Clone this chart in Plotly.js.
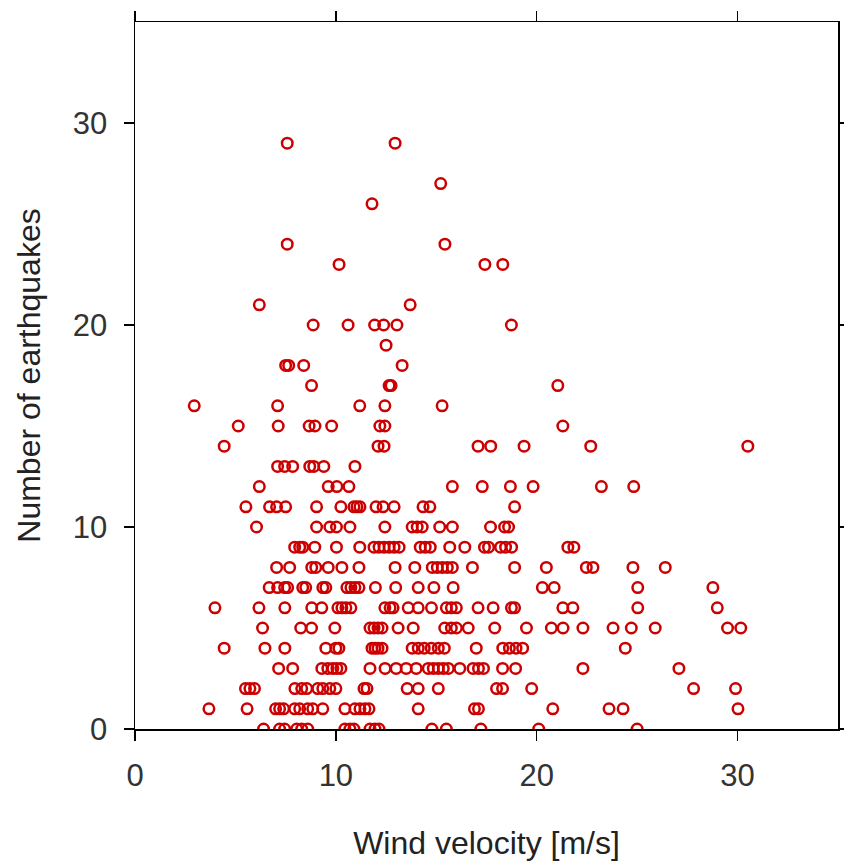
<!DOCTYPE html>
<html>
<head>
<meta charset="utf-8">
<script src="https://cdn.plot.ly/plotly-3.0.1.min.js"></script>
<style>html,body{margin:0;padding:0;background:#fff;}#chart{width:844px;height:861px;}</style>
</head>
<body>
<div id="chart"></div>
<script>
// Wind velocity [m/s] of each observation, grouped by its number of earthquakes
const quakeCounts = [0,1,2,3,4,5,6,7,8,9,10,11,12,13,14,15,16,17,18,19,20,21,23,24,26,27,29];
const windAt0 = [6.4, 7.2, 7.45, 8.05, 8.3, 8.6, 10.45, 10.7, 10.9, 11.7, 11.95, 12.15, 14.78, 15.5, 17.22, 20.1, 25.0];
const windAt1 = [3.68, 5.58, 7.0, 7.2, 7.4, 7.95, 8.2, 8.6, 8.85, 9.35, 10.45, 10.95, 11.2, 11.45, 11.65, 14.1, 16.9, 17.1, 20.8, 23.6, 24.3, 30.02];
const windAt2 = [5.5, 5.72, 5.95, 7.96, 8.3, 8.55, 9.1, 9.35, 9.7, 10.0, 11.4, 11.55, 13.55, 14.1, 15.1, 18.0, 18.3, 19.75, 27.81, 29.9];
const windAt3 = [7.15, 7.85, 9.3, 9.6, 9.85, 10.05, 10.25, 11.7, 12.45, 13.0, 13.5, 14.0, 14.6, 14.85, 15.1, 15.35, 15.6, 16.17, 16.83, 17.1, 17.35, 18.3, 18.95, 22.3, 27.08];
const windAt4 = [4.44, 6.47, 7.46, 9.5, 10.0, 10.15, 11.8, 11.95, 12.1, 12.3, 13.8, 14.1, 14.4, 14.75, 15.1, 15.4, 16.99, 18.31, 18.64, 18.97, 19.3, 24.41];
const windAt5 = [6.35, 8.25, 8.79, 9.95, 11.7, 11.9, 12.1, 12.3, 13.1, 13.85, 15.42, 15.75, 16.0, 16.59, 17.91, 19.49, 20.73, 21.31, 22.3, 23.8, 24.71, 25.9, 29.5, 30.16];
const windAt6 = [3.98, 6.17, 7.46, 8.8, 9.3, 10.1, 10.3, 10.5, 10.75, 12.44, 12.7, 12.85, 13.6, 14.1, 14.76, 15.5, 15.75, 16.0, 17.08, 17.83, 18.74, 18.9, 21.3, 21.8, 25.03, 28.99];
const windAt7 = [6.68, 7.1, 7.45, 7.6, 8.35, 8.5, 9.35, 9.5, 10.55, 10.75, 10.95, 11.15, 11.97, 12.98, 14.1, 14.88, 15.84, 20.28, 20.87, 25.03, 28.77];
const windAt8 = [7.05, 7.7, 8.8, 9.0, 9.62, 10.3, 11.15, 12.95, 13.93, 14.8, 15.05, 15.3, 15.55, 15.8, 16.8, 18.9, 20.48, 22.47, 22.8, 24.79, 26.4];
const windAt9 = [7.95, 8.2, 8.35, 8.95, 10.03, 11.19, 11.9, 12.15, 12.4, 12.65, 12.9, 13.15, 14.2, 14.45, 14.7, 15.67, 16.42, 17.4, 17.6, 18.2, 18.45, 18.75, 21.55, 21.85];
const windAt10 = [6.05, 9.04, 9.7, 10.03, 10.7, 12.44, 13.8, 14.05, 14.3, 15.17, 15.8, 17.7, 18.4, 18.6];
const windAt11 = [5.52, 6.7, 7.05, 7.5, 9.04, 10.25, 10.9, 11.05, 11.2, 12.0, 12.35, 12.9, 14.34, 14.68, 18.9];
const windAt12 = [6.19, 9.62, 10.05, 10.65, 15.8, 17.29, 18.69, 19.82, 23.22, 24.83];
const windAt13 = [7.1, 7.45, 7.85, 8.7, 8.9, 9.4, 10.95];
const windAt14 = [4.44, 12.1, 12.4, 17.08, 17.71, 19.37, 22.69, 30.51];
const windAt15 = [5.14, 7.13, 8.67, 8.96, 9.79, 12.19, 12.44, 21.3];
const windAt16 = [2.95, 7.1, 11.19, 12.44, 15.29];
const windAt17 = [8.79, 12.65, 12.75, 21.05];
const windAt18 = [7.5, 7.65, 8.4, 13.3];
const windAt19 = [12.5];
const windAt20 = [8.87, 10.61, 11.93, 12.38, 13.04, 18.74];
const windAt21 = [6.19, 13.7];
const windAt23 = [10.16, 17.42, 18.31];
const windAt24 = [7.58, 15.43];
const windAt26 = [11.8];
const windAt27 = [15.22];
const windAt29 = [7.58, 12.95];

const windGroups = [windAt0, windAt1, windAt2, windAt3, windAt4, windAt5, windAt6, windAt7,
  windAt8, windAt9, windAt10, windAt11, windAt12, windAt13, windAt14, windAt15, windAt16,
  windAt17, windAt18, windAt19, windAt20, windAt21, windAt23, windAt24, windAt26, windAt27, windAt29];

const tickValues = [0, 10, 20, 30];
const tickLabels = ['0', '10', '20', '30'];

const xs = [], ys = [];
windGroups.forEach((g, i) => g.forEach(w => { xs.push(w); ys.push(quakeCounts[i]); }));

const trace = {
  type: 'scatter', mode: 'markers', x: xs, y: ys,
  marker: { symbol: 'circle-open', size: 10.5, color: '#cc0000', line: { width: 2.5, color: '#cc0000' } },
  hoverinfo: 'x+y'
};

const axisCommon = {
  range: [0, 35], tickmode: 'array', tickvals: tickValues, ticktext: tickLabels,
  showgrid: false, zeroline: false, showline: true, linecolor: '#000', linewidth: 1.5,
  mirror: 'ticks', ticks: 'outside', ticklen: 10, tickwidth: 1.5, tickcolor: '#000',
  tickfont: { family: 'Liberation Sans, Arial, sans-serif', size: 31, color: '#333' },
  automargin: false
};

const layout = {
  width: 844, height: 861,
  margin: { l: 135, r: 6, t: 22, b: 132 },
  paper_bgcolor: '#fff', plot_bgcolor: '#fff',
  showlegend: false,
  xaxis: Object.assign({}, axisCommon, {
    ticklabelstandoff: 8,
    title: { text: 'Wind velocity [m/s]', standoff: 40,
      font: { family: 'Liberation Sans, Arial, sans-serif', size: 32, color: '#222' } }
  }),
  yaxis: Object.assign({}, axisCommon, {
    ticklabelstandoff: 10,
    title: { text: 'Number of earthquakes', standoff: 22,
      font: { family: 'Liberation Sans, Arial, sans-serif', size: 32, color: '#222' } }
  })
};

Plotly.newPlot('chart', [trace], layout, { displayModeBar: false, staticPlot: true });
</script>
</body>
</html>
